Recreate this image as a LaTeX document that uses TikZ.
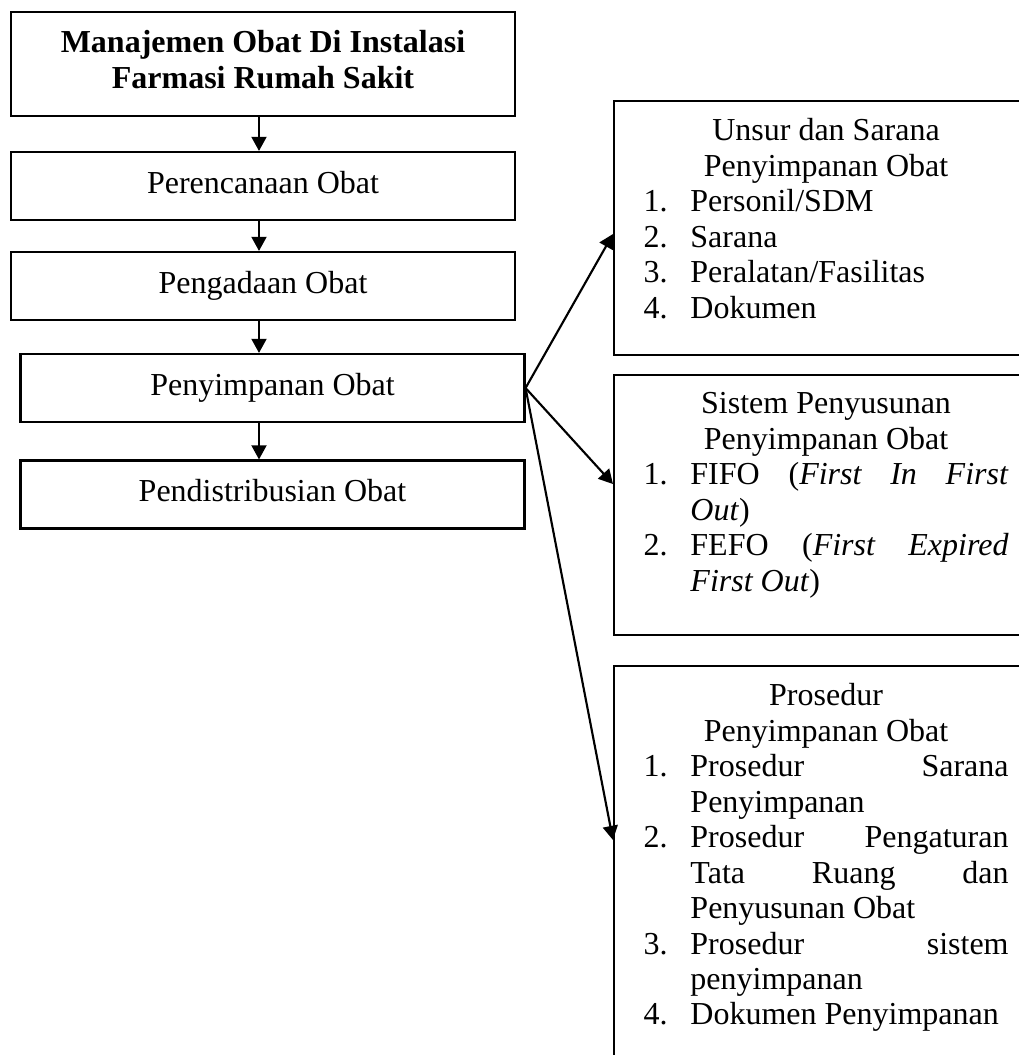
\documentclass[tikz,border=0pt]{standalone}
\usepackage{fontspec}
\setmainfont{Liberation Serif}
\usetikzlibrary{positioning,calc,arrows.meta}

\tikzset{
  judulbox/.style={draw, line width=0.8pt, minimum width=189pt, minimum height=39pt, inner sep=0pt, align=center, text depth=3.5pt, font=\fontsize{12}{13.5}\selectfont\bfseries},
  kotak/.style={draw, line width=0.8pt, minimum width=189pt, minimum height=25.5pt, inner sep=0pt, text height=8.2pt, text depth=2.9pt, font=\fontsize{12}{13.3}\selectfont},
  panel/.style={draw, line width=0.8pt, minimum width=160pt, anchor=north west, inner sep=0pt},
  isi/.style={anchor=north west, inner sep=0pt, text width=136.9pt, align=justify, font=\fontsize{12}{13.3}\selectfont},
  panah/.style={line width=0.8pt, -{Triangle[length=5.3pt,width=5.6pt]}}
}
\newcommand{\butir}[2]{\par\noindent\hangindent=17.6pt\hangafter=1\makebox[17.6pt][l]{#1}#2}
\hbadness=10000
\hyphenpenalty=10000

\begin{document}
\begin{tikzpicture}[x=0.375pt, y=-0.375pt]
    \clip (0,0) rectangle (1019,1055);
    \coordinate (poros) at (259,0);
    \node[judulbox] (judul) at (263,64) {Manajemen Obat Di Instalasi\\Farmasi Rumah Sakit};
    \node[kotak] (rencana) at (263,186) {Perencanaan Obat};
    \node[kotak] (pengadaan) at (263,286) {Pengadaan Obat};
    \node[kotak] (simpan) at (272.5,388) {Penyimpanan Obat};
    \node[kotak] (distribusi) at (272.5,494.5) {Pendistribusian Obat};
    \draw[panah] (judul.south -| poros) -- (rencana.north -| poros);
    \draw[panah] (rencana.south -| poros) -- (pengadaan.north -| poros);
    \draw[panah] (pengadaan.south -| poros) -- (simpan.north -| poros);
    \draw[panah] (simpan.south -| poros) -- (distribusi.north -| poros);

    \node[panel, minimum height=95.25pt] (unsur) at (613,100) {};
    \node[panel, minimum height=97.5pt] (sistem) at (613,374) {};
    \node[panel, minimum height=155.6pt] (prosedur) at (613,665) {};
    \node[isi, below right=6.75pt and 11.25pt of unsur.north west] (unsurisi) {%
      {\centering Unsur dan Sarana\par Penyimpanan Obat\par}%
      \butir{1.}{Personil/SDM}%
      \butir{2.}{Sarana}%
      \butir{3.}{Peralatan/Fasilitas}%
      \butir{4.}{Dokumen}\par};
    \node[isi, below right=6.75pt and 11.25pt of sistem.north west] (sistemisi) {%
      {\centering Sistem Penyusunan\par Penyimpanan Obat\par}%
      \butir{1.}{FIFO (\textit{First In First}\linebreak \textit{Out})}%
      \butir{2.}{FEFO (\textit{First Expired}\linebreak \textit{First Out})}\par};
    \node[isi, below right=6.75pt and 11.25pt of prosedur.north west] (prosedurisi) {%
      {\centering Prosedur\par Penyimpanan Obat\par}%
      \butir{1.}{Prosedur Sarana\linebreak Penyimpanan}%
      \butir{2.}{Prosedur Pengaturan\linebreak Tata Ruang dan\linebreak Penyusunan Obat}%
      \butir{3.}{Prosedur sistem\linebreak penyimpanan}%
      \butir{4.}{Dokumen Penyimpanan}\par};

    \draw[panah] (simpan.east) -- ($(unsur.north west)+(0,134)$);
    \draw[panah] (simpan.east) -- ($(sistem.north west)+(0,110)$);
    \draw[panah] (simpan.east) -- ($(prosedur.north west)+(0,175)$);
\end{tikzpicture}
\end{document}
